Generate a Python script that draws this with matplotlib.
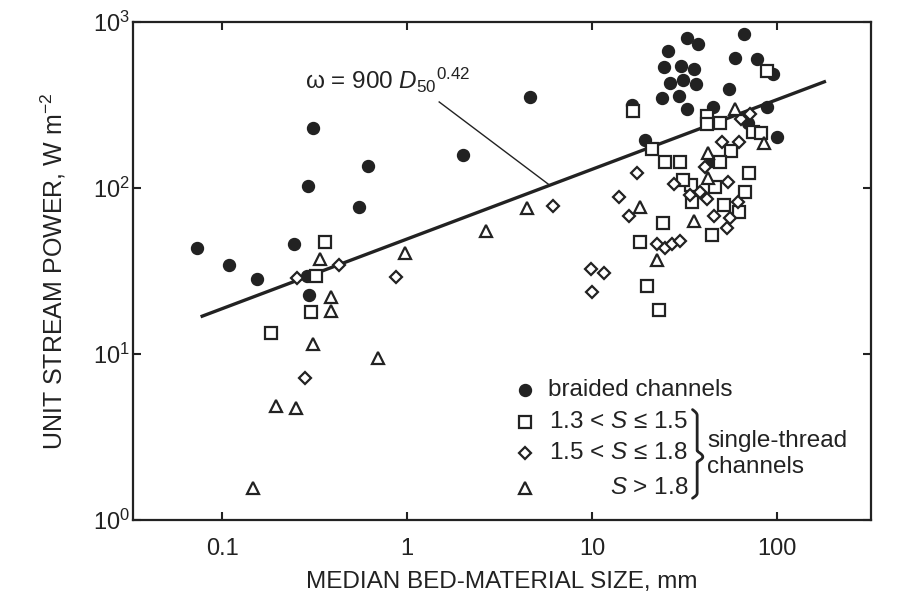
import numpy as np
import matplotlib
matplotlib.use("Agg")
import matplotlib.pyplot as plt
from matplotlib.ticker import FixedLocator, FuncFormatter, NullLocator

plt.rcParams['font.family'] = ['Liberation Sans', 'DejaVu Sans']
plt.rcParams['mathtext.fontset'] = 'custom'
plt.rcParams['mathtext.rm'] = 'Liberation Sans'
plt.rcParams['mathtext.it'] = 'Liberation Sans:italic'
plt.rcParams['mathtext.bf'] = 'Liberation Sans:bold'

INK = '#222222'

# ---------------- data (D50 in mm, unit stream power in W m^-2) ----------------
braided_d = [0.0735, 0.109, 0.155, 0.246, 0.295, 0.287, 0.310, 0.613, 0.292, 0.548,
             2.01, 4.60, 32.5, 37.3, 66.4, 25.8, 24.3, 30.1, 35.7, 26.2, 30.9, 36.4,
             59.0, 77.6, 95.5, 23.9, 29.6, 54.6, 32.5, 44.9, 87.9, 16.5, 19.3, 99.6,
             69.7, 44.6]
braided_w = [43.4, 34.3, 28.5, 46.1, 22.8, 29.4, 230.7, 135.8, 102.7, 76.6,
             158, 355.6, 803, 743, 851, 668, 536, 548, 524, 432, 452, 422,
             605, 600, 489, 350, 358, 395, 299, 308, 308, 317, 195, 204,
             247, 146]

s13_d = [0.361, 0.322, 0.303, 0.184, 16.7, 87.9, 41.7, 41.7, 48.8, 73.9, 82.0, 21.1,
         24.8, 29.7, 56.4, 49.2, 70.3, 46.0, 67.1, 34.3, 34.6, 51.3, 61.9, 24.0,
         18.2, 44.6, 19.9, 23.1, 30.9]
s13_w = [47.4, 29.4, 18.0, 13.4, 290, 512, 274, 243, 247, 218, 215, 173,
         144.5, 144.5, 168, 144.5, 123, 101.8, 94.9, 104, 82.5, 79.5, 71.8, 61.5,
         47.1, 52.1, 25.7, 18.5, 112.4]

s15_d = [0.255, 0.428, 0.875, 0.282, 6.18, 17.5, 13.9, 15.9, 9.82, 11.6, 10.0, 22.5,
         24.7, 27.1, 29.9, 45.3, 53.5, 55.5, 61.5, 53.9, 41.5, 33.6, 27.7, 40.6,
         50.2, 62.2, 63.5, 71.5, 38.4]
s15_w = [28.7, 34.3, 29.0, 7.14, 78.0, 123, 88.1, 68.0, 32.4, 31.0, 23.6, 45.9,
         43.4, 46.1, 48.0, 68.3, 57.2, 66.2, 82.1, 108.4, 85.7, 90.6, 106.5, 134,
         189, 191, 262, 279, 94.9]

s18_d = [0.336, 0.388, 0.388, 0.309, 0.695, 0.196, 0.251, 0.147, 0.979, 2.66, 4.44,
         22.5, 18.2, 35.6, 42.2, 42.2, 85.1, 59.0]
s18_w = [37.5, 22.2, 18.1, 11.5, 9.52, 4.89, 4.76, 1.56, 40.8, 55.3, 75.8,
         36.8, 77.6, 63.7, 164, 116, 187, 300]

# regression: omega = 900 * D50^0.42 with D50 in metres
coef = 900.0
expo = 0.42
line_range = [0.078, 180.0]

x_ticks = [0.1, 1, 10, 100]
x_tick_labels = ['0.1', '1', '10', '100']
y_ticks = [1, 10, 100, 1000]

# ---------------- figure ----------------
fig = plt.figure(figsize=(8.99, 6.02), dpi=100)
ax = fig.add_axes([0.148, 0.136, 0.821, 0.827])
ax.set_xscale('log')
ax.set_yscale('log')
ax.set_xlim(0.033, 322)
ax.set_ylim(1, 1000)

xl = np.logspace(np.log10(line_range[0]), np.log10(line_range[1]), 50)
ax.plot(xl, coef * (xl / 1000.0) ** expo, color=INK, lw=2.4, zorder=2)

ax.plot(braided_d, braided_w, 'o', ms=8.6, color=INK, mec=INK, zorder=3)
ax.plot(s13_d, s13_w, 's', ms=8.4, mfc='white', mec=INK, mew=1.6, zorder=4)
ax.plot(s15_d, s15_w, 'D', ms=6.5, mfc='white', mec=INK, mew=1.6, zorder=4)
ax.plot(s18_d, s18_w, '^', ms=8.5, mfc='white', mec=INK, mew=1.6, zorder=4)

# equation annotation with leader line
ax.text(0.281, 395, r'ω = 900 $\mathit{D}_{50}{}^{0.42}$', fontsize=17.5,
        color=INK, ha='left', va='baseline')
d_end = 5.9
ax.plot([1.49, d_end], [331, coef * (d_end / 1000.0) ** expo], color=INK, lw=1.0)

# axes styling
for s in ax.spines.values():
    s.set_linewidth(1.6)
    s.set_color(INK)
ax.xaxis.set_major_locator(FixedLocator(x_ticks))
ax.xaxis.set_minor_locator(NullLocator())
ax.xaxis.set_major_formatter(FuncFormatter(lambda v, p: x_tick_labels[x_ticks.index(v)] if v in x_ticks else ''))
ax.yaxis.set_major_locator(FixedLocator(y_ticks))
ax.yaxis.set_minor_locator(NullLocator())
ax.yaxis.set_major_formatter(FuncFormatter(lambda v, p: r'$10^{%d}$' % int(round(np.log10(v)))))
ax.tick_params(which='major', direction='in', length=6, width=1.5, colors=INK,
               top=True, right=True, labelsize=17)
ax.tick_params(axis='x', pad=13)
ax.tick_params(axis='y', pad=2)

ax.set_xlabel('MEDIAN BED-MATERIAL SIZE, mm', fontsize=17.5, color=INK, labelpad=8)
ax.set_ylabel(r'UNIT STREAM POWER, W m$^{-2}$', fontsize=18, color=INK, labelpad=18)

# ---------------- legend (drawn manually) ----------------
T = ax.transAxes
mx, tx, tr = 0.5305, 0.5623, 0.752
rows = [0.261, 0.197, 0.135, 0.064]
ax.plot([mx], [rows[0]], 'o', ms=8.6, color=INK, transform=T, clip_on=False)
ax.plot([mx], [rows[1]], 's', ms=8.4, mfc='white', mec=INK, mew=1.6, transform=T)
ax.plot([mx], [rows[2]], 'D', ms=6.5, mfc='white', mec=INK, mew=1.6, transform=T)
ax.plot([mx], [rows[3]], '^', ms=8.5, mfc='white', mec=INK, mew=1.6, transform=T)
fs = 17.5
ax.text(tx, rows[0], 'braided channels', transform=T, fontsize=fs, color=INK, va='center', ha='left')
ax.text(tr, rows[1], r'1.3 < $\mathit{S}$ ≤ 1.5', transform=T, fontsize=fs, color=INK, va='center', ha='right')
ax.text(tr, rows[2], r'1.5 < $\mathit{S}$ ≤ 1.8', transform=T, fontsize=fs, color=INK, va='center', ha='right')
ax.text(tr, rows[3], r'$\mathit{S}$ > 1.8', transform=T, fontsize=fs, color=INK, va='center', ha='right')

# curly brace
bx0, bx1 = 0.758, 0.772
ytop, ybot, ymid = 0.222, 0.044, 0.127
bw = bx1 - bx0
xs = []
ys = []
n = 40
for y in np.linspace(ytop, ymid, n):
    f = (y - ytop) / (ymid - ytop)
    if f < 0.12:
        x = bx0 + bw * 0.45 * np.sin(np.pi / 2 * f / 0.12)
    elif f > 0.88:
        x = bx0 + bw * 0.45 + bw * 0.55 * np.sin(np.pi / 2 * (f - 0.88) / 0.12)
    else:
        x = bx0 + bw * 0.45
    xs.append(x); ys.append(y)
for y in np.linspace(ymid, ybot, n):
    f = (ymid - y) / (ymid - ybot)
    if f < 0.12:
        x = bx0 + bw * 0.45 + bw * 0.55 * np.cos(np.pi / 2 * f / 0.12)
    elif f > 0.88:
        x = bx0 + bw * 0.45 * np.sin(np.pi / 2 * (1 - f) / 0.12)
    else:
        x = bx0 + bw * 0.45
    xs.append(x); ys.append(y)
ax.plot(xs, ys, color=INK, lw=2.0, transform=T, solid_capstyle='round')

ax.text(0.778, 0.159, 'single-thread', transform=T, fontsize=fs, color=INK, va='center', ha='left')
ax.text(0.778, 0.106, 'channels', transform=T, fontsize=fs, color=INK, va='center', ha='left')

fig.savefig('out.png', dpi=100, facecolor='white')
